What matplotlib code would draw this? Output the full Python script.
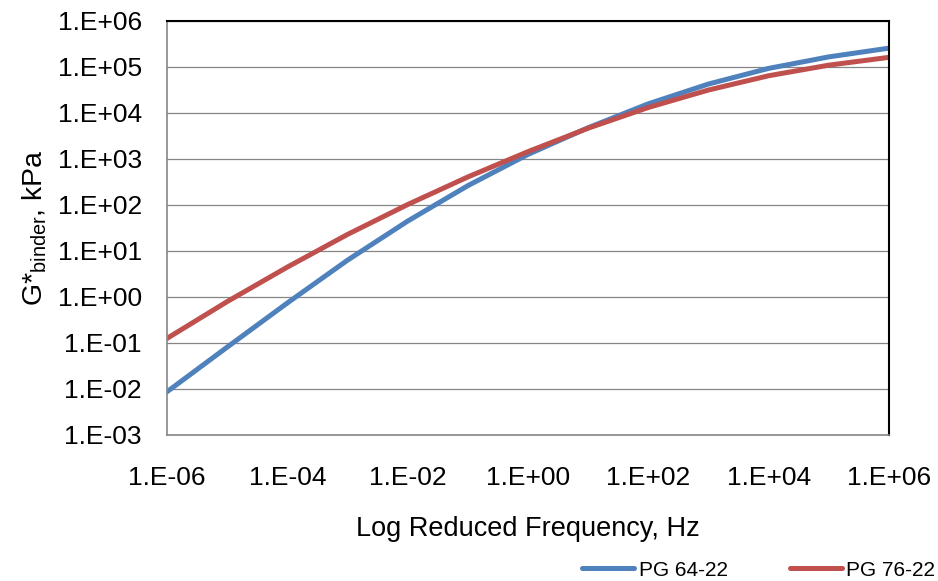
import numpy as np
import matplotlib
matplotlib.use('Agg')
import matplotlib.pyplot as plt
from matplotlib.ticker import FixedLocator, FuncFormatter

plt.rcParams['font.family'] = ['Liberation Sans', 'DejaVu Sans']
plt.rcParams['mathtext.fontset'] = 'custom'
plt.rcParams['mathtext.rm'] = 'Liberation Sans'
plt.rcParams['mathtext.it'] = 'Liberation Sans:italic'

# master curve values, log10 of reduced frequency (Hz) and log10 of |G*| (kPa)
log_freq = [-6, -5, -4, -3, -2, -1, 0, 1, 2, 3, 4, 5, 6]
log_g_pg6422 = [-2.06, -1.09, -0.13, 0.80, 1.65, 2.42, 3.10, 3.68, 4.20, 4.63, 4.97, 5.22, 5.41]
log_g_pg7622 = [-0.90, -0.10, 0.65, 1.36, 2.01, 2.61, 3.16, 3.67, 4.12, 4.50, 4.81, 5.04, 5.21]

freq = 10.0 ** np.array(log_freq)
g_6422 = 10.0 ** np.array(log_g_pg6422)
g_7622 = 10.0 ** np.array(log_g_pg7622)

fig = plt.figure(figsize=(9.38, 5.81), dpi=100)
ax = fig.add_axes([167 / 938, 1 - 435 / 581, (889 - 167) / 938, (435 - 21) / 581])

ax.plot(freq, g_6422, color='#4F81BD', lw=3.6, label='PG 64-22', solid_capstyle='round')
ax.plot(freq, g_7622, color='#C0504D', lw=3.6, label='PG 76-22', solid_capstyle='round')

ax.set_xscale('log')
ax.set_yscale('log')
ax.set_xlim(1e-6, 1e6)
ax.set_ylim(1e-3, 1e6)


def excel_fmt(v, pos):
    e = int(round(np.log10(v)))
    return f'1.E{e:+03d}'


ax.xaxis.set_major_locator(FixedLocator([10.0 ** e for e in range(-6, 7, 2)]))
ax.yaxis.set_major_locator(FixedLocator([10.0 ** e for e in range(-3, 7)]))
ax.xaxis.set_minor_locator(FixedLocator([]))
ax.yaxis.set_minor_locator(FixedLocator([]))
ax.xaxis.set_major_formatter(FuncFormatter(excel_fmt))
ax.yaxis.set_major_formatter(FuncFormatter(excel_fmt))
ax.tick_params(axis='both', length=0, labelsize=19)
ax.tick_params(axis='y', pad=18)
ax.tick_params(axis='x', pad=22)

ax.grid(axis='y', color='#868686', lw=0.9)
ax.set_axisbelow(True)

for side in ['left', 'bottom']:
    ax.spines[side].set_color('#868686')
    ax.spines[side].set_linewidth(1.2)
for side in ['top', 'right']:
    ax.spines[side].set_color('black')
    ax.spines[side].set_linewidth(1.5)

ax.set_xlabel('Log Reduced Frequency, Hz', fontsize=19.5, labelpad=19)
ax.set_ylabel(r'G*$_{\mathrm{binder}}$, kPa', fontsize=20.5, labelpad=6)

fig.legend(loc='lower right', bbox_to_anchor=(1.006, -0.012), ncol=2, frameon=False,
           fontsize=15, handlelength=2.5, handletextpad=0.2, columnspacing=3.0,
           borderaxespad=0.0)

fig.savefig('out.png', dpi=100)
